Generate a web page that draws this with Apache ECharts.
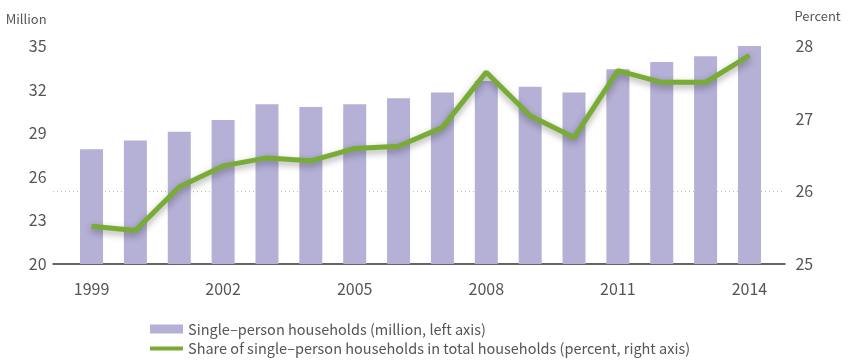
<!DOCTYPE html>
<html>
<head>
<meta charset="utf-8">
<script src="https://cdn.jsdelivr.net/npm/echarts@6/dist/echarts.min.js"></script>
<style>
  html, body { margin: 0; padding: 0; background: #fff; }
  #chart { width: 848px; height: 363px; }
</style>
</head>
<body>
<div id="chart"></div>
<script>
// Single-person households, 1999-2014
const years = ['1999', '2000', '2001', '2002', '2003', '2004', '2005', '2006',
               '2007', '2008', '2009', '2010', '2011', '2012', '2013', '2014'];
const householdsMillion = [27.9, 28.5, 29.1, 29.9, 31.0, 30.8, 31.0, 31.4,
                           31.8, 32.6, 32.2, 31.8, 33.4, 33.9, 34.3, 35.0];
const sharePercent = [25.52, 25.46, 26.06, 26.35, 26.46, 26.42, 26.59, 26.62,
                      26.88, 27.64, 27.04, 26.74, 27.66, 27.50, 27.50, 27.87];
const leftTicks = { min: 20, max: 35, step: 3 };
const rightTicks = { min: 25, max: 28, step: 1 };
const barName = 'Single–person households (million, left axis)';
const lineName = 'Share of single–person households in total households (percent, right axis)';

const FONT = '"Noto Sans CJK KR", "Noto Sans", sans-serif';
const TEXT = '#555';

const chart = echarts.init(document.getElementById('chart'), null, { renderer: 'canvas' });

chart.setOption({
  animation: false,
  backgroundColor: '#fff',
  textStyle: { fontFamily: FONT },
  grid: [
    // plotting area for bars and line
    { left: 69.6, right: 76.6, top: 46, bottom: 99 },
    // wider frame carrying the baseline and the 26% reference line
    { left: 53, right: 63, top: 46, bottom: 99 }
  ],
  xAxis: [
    {
      type: 'category', gridIndex: 0, data: years,
      axisLine: { show: false }, axisTick: { show: false },
      axisLabel: { interval: 2, margin: 16, fontSize: 16, lineHeight: 18, color: TEXT, fontFamily: FONT }
    },
    {
      type: 'value', gridIndex: 1, min: 0, max: 1,
      axisLine: { show: true, lineStyle: { color: '#333', width: 1.5 } },
      axisTick: { show: false }, axisLabel: { show: false }, splitLine: { show: false }
    }
  ],
  yAxis: [
    {
      type: 'value', gridIndex: 0, position: 'left',
      min: leftTicks.min, max: leftTicks.max, interval: leftTicks.step,
      name: 'Million', nameLocation: 'end', nameGap: 27,
      nameTextStyle: { align: 'right', verticalAlign: 'middle', fontSize: 13, lineHeight: 16,
                       color: TEXT, fontFamily: FONT, padding: [0, 23, 0, 0] },
      axisLine: { show: false }, axisTick: { show: false }, splitLine: { show: false },
      axisLabel: { margin: 23, fontSize: 16, lineHeight: 18, color: TEXT, fontFamily: FONT }
    },
    {
      type: 'value', gridIndex: 0, position: 'right',
      min: rightTicks.min, max: rightTicks.max, interval: rightTicks.step,
      name: 'Percent', nameLocation: 'end', nameGap: 30,
      nameTextStyle: { align: 'left', verticalAlign: 'middle', fontSize: 13, lineHeight: 16,
                       color: TEXT, fontFamily: FONT, padding: [0, 0, 0, 23] },
      axisLine: { show: false }, axisTick: { show: false }, splitLine: { show: false },
      axisLabel: { margin: 24, fontSize: 16, lineHeight: 18, color: TEXT, fontFamily: FONT }
    },
    {
      type: 'value', gridIndex: 1,
      min: rightTicks.min, max: rightTicks.max, interval: rightTicks.step,
      axisLine: { show: false }, axisTick: { show: false }, axisLabel: { show: false },
      splitLine: {
        show: true, showMinLine: false, showMaxLine: false,
        lineStyle: { color: ['#bdbdbd', 'rgba(0,0,0,0)'], width: 1, type: [1, 3] }
      }
    }
  ],
  legend: {
    orient: 'vertical', left: 150, top: 321, padding: 0,
    itemWidth: 33, itemHeight: 9, itemGap: 3.5,
    textStyle: { fontSize: 14.5, lineHeight: 16, color: TEXT, fontFamily: FONT },
    data: [
      { name: barName, icon: 'rect' },
      { name: lineName, icon: 'path://M0,0 L0.01,0 L0,0.01 Z M0,2.5 H33 V6.5 H0 Z M0,9 L0.01,9 L0,8.99 Z' }
    ]
  },
  series: [
    {
      name: barName, type: 'bar', xAxisIndex: 0, yAxisIndex: 0,
      data: householdsMillion, barWidth: 23,
      itemStyle: { color: '#b4b0d6' }
    },
    {
      name: lineName, type: 'line', xAxisIndex: 0, yAxisIndex: 1,
      data: sharePercent, symbol: 'none',
      itemStyle: { color: '#78ac34' },
      lineStyle: {
        color: '#78ac34', width: 5,
        shadowColor: 'rgba(0,0,0,0.35)', shadowBlur: 7, shadowOffsetY: 3
      }
    }
  ]
});
</script>
</body>
</html>
